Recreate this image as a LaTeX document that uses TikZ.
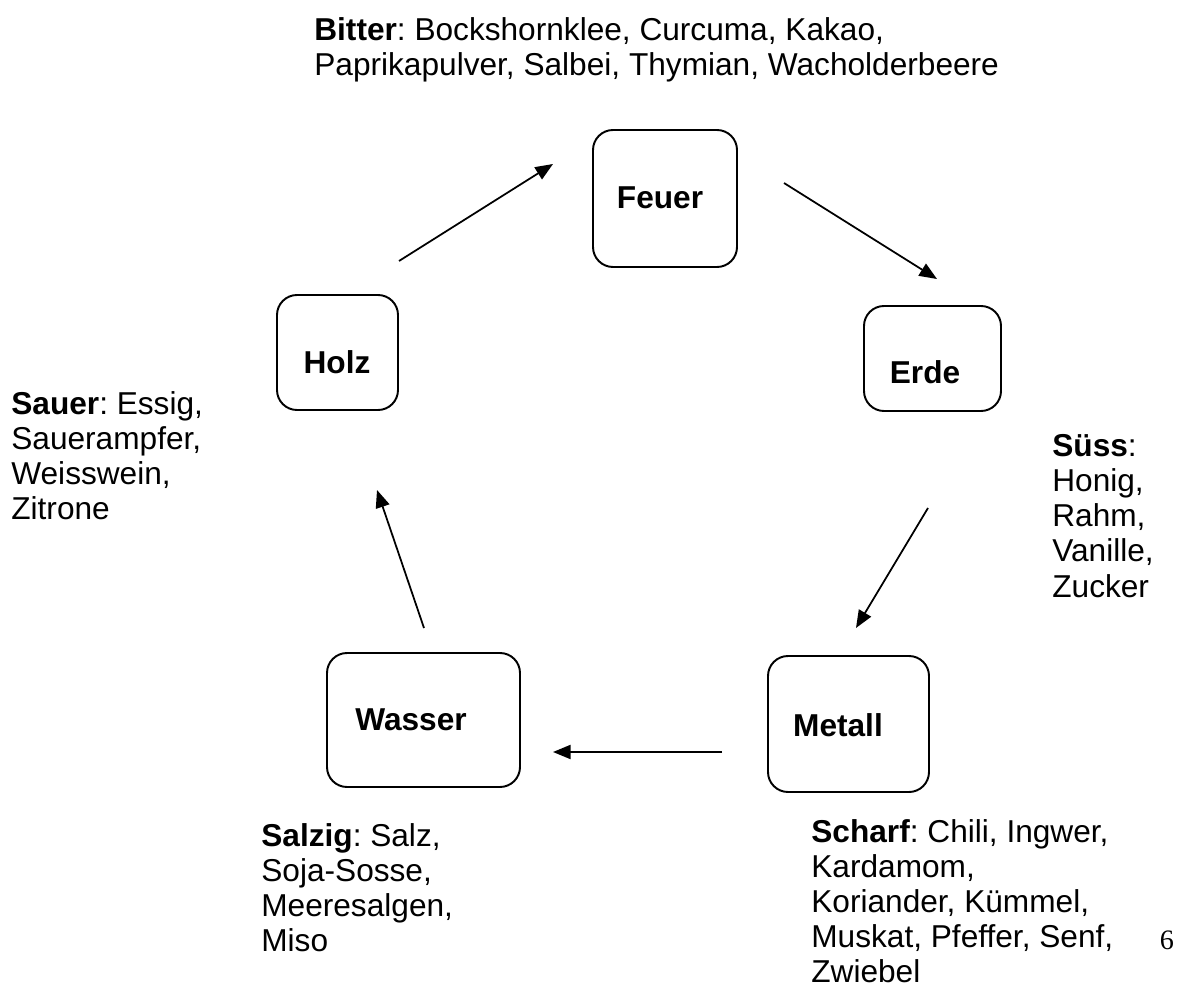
\documentclass[tikz,border=0pt]{standalone}
\usepackage{fontspec}
\setmainfont{Liberation Sans}
\newfontfamily\pagenumfont{Liberation Serif}
\usepackage{tikz}
\usetikzlibrary{arrows.meta, positioning}
\frenchspacing

\tikzset{
  elem/.style={draw, line width=1.1pt, rounded corners=0.4cm},
  elemlbl/.style={inner sep=0pt, font=\bfseries\fontsize{18}{20}\selectfont},
  taste/.style={align=left, anchor=north west, inner sep=0pt, font=\fontsize{18}{20}\selectfont},
  cycle/.style={line width=1pt, -{Triangle[length=10pt,width=8pt]}}
}

\begin{document}
\begin{tikzpicture}
  \useasboundingbox (0,0) rectangle (23.78,19.96);
  % the five elements
  \node[elem, minimum width=2.88cm, minimum height=2.74cm] (feuer) at (13.30,15.99) {};
  \node[elemlbl] (feuerlbl) at (13.20,16.00) {Feuer};
  \node[elem, minimum width=2.74cm, minimum height=2.10cm] (erde) at (18.65,12.79) {};
  \node[elemlbl] (erdelbl) at (18.50,12.52) {Erde};
  \node[elem, minimum width=3.22cm, minimum height=2.72cm] (metall) at (16.97,5.48) {};
  \node[elemlbl] (metalllbl) at (16.76,5.46) {Metall};
  \node[elem, minimum width=3.86cm, minimum height=2.68cm] (wasser) at (8.47,5.56) {};
  \node[elemlbl] (wasserlbl) at (8.22,5.56) {Wasser};
  \node[elem, minimum width=2.42cm, minimum height=2.30cm] (holz) at (6.75,12.91) {};
  \node[elemlbl] (holzlbl) at (6.74,12.72) {Holz};
  % arrow ends
  \coordinate (h2f-s) at (7.98,14.74);
  \coordinate (h2f-e) at (11.06,16.68);
  \coordinate (f2e-s) at (15.68,16.30);
  \coordinate (f2e-e) at (18.74,14.38);
  \coordinate (e2m-s) at (18.56,9.80);
  \coordinate (e2m-e) at (17.12,7.40);
  \coordinate (m2w-s) at (14.44,4.92);
  \coordinate (m2w-e) at (11.06,4.92);
  \coordinate (w2h-s) at (8.48,7.40);
  \coordinate (w2h-e) at (7.54,10.16);
  % cycle
  \draw[cycle] (h2f-s) -- (h2f-e);
  \draw[cycle] (f2e-s) -- (f2e-e);
  \draw[cycle] (e2m-s) -- (e2m-e);
  \draw[cycle] (m2w-s) -- (m2w-e);
  \draw[cycle] (w2h-s) -- (w2h-e);
  % tastes
  \node[taste] (bitter) at (6.28,19.62) {\textbf{Bitter}: Bockshornklee, Curcuma, Kakao,\\Paprikapulver, Salbei, Thymian, Wacholderbeere};
  \node[taste] (suess) at (21.04,11.28) {\textbf{Süss}:\\Honig,\\Rahm,\\Vanille,\\Zucker};
  \node[taste] (scharf) at (16.22,3.58) {\textbf{Scharf}: Chili, Ingwer,\\Kardamom,\\Koriander, Kümmel,\\Muskat, Pfeffer, Senf,\\Zwiebel};
  \node[taste] (salzig) at (5.22,3.50) {\textbf{Salzig}: Salz,\\Soja-Sosse,\\Meeresalgen,\\Miso};
  \node[taste] (sauer) at (0.22,12.14) {\textbf{Sauer}: Essig,\\Sauerampfer,\\Weisswein,\\Zitrone};
  % page number
  \node[font=\pagenumfont\fontsize{16}{18}\selectfont, inner sep=0pt] (seite) at (23.34,1.16) {6};
\end{tikzpicture}
\end{document}
